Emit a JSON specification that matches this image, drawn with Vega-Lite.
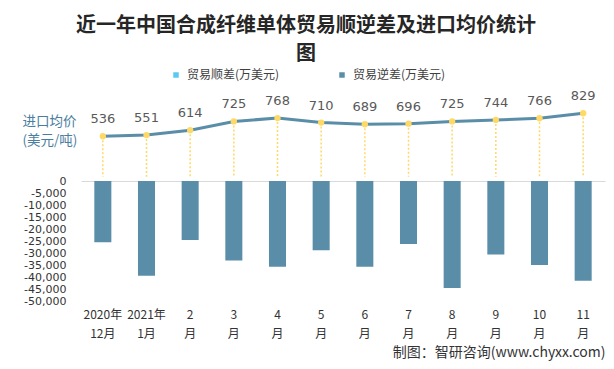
{
  "$schema": "https://vega.github.io/schema/vega-lite/v6.json",
  "width": 524,
  "height": 201,
  "autosize": "none",
  "padding": {"left": 81, "top": 100, "right": 9, "bottom": 68},
  "background": "white",
  "config": {"view": {"stroke": null}, "font": "Noto Sans CJK SC"},
  "title": {
    "text": ["近一年中国合成纤维单体贸易顺逆差及进口均价统计", "图"],
    "anchor": "middle",
    "dx": -37,
    "offset": 5,
    "fontSize": 20,
    "fontWeight": "bold",
    "font": "Noto Sans CJK SC",
    "color": "#262626",
    "lineHeight": 28
  },
  "data": {
    "values": [
      {"month": "2020年12月", "series": "贸易逆差(万美元)", "deficit": -25500, "price": 536},
      {"month": "2021年1月", "series": "贸易逆差(万美元)", "deficit": -39500, "price": 551},
      {"month": "2月", "series": "贸易逆差(万美元)", "deficit": -24600, "price": 614},
      {"month": "3月", "series": "贸易逆差(万美元)", "deficit": -33100, "price": 725},
      {"month": "4月", "series": "贸易逆差(万美元)", "deficit": -35700, "price": 768},
      {"month": "5月", "series": "贸易逆差(万美元)", "deficit": -28900, "price": 710},
      {"month": "6月", "series": "贸易逆差(万美元)", "deficit": -35700, "price": 689},
      {"month": "7月", "series": "贸易逆差(万美元)", "deficit": -26300, "price": 696},
      {"month": "8月", "series": "贸易逆差(万美元)", "deficit": -44600, "price": 725},
      {"month": "9月", "series": "贸易逆差(万美元)", "deficit": -30600, "price": 744},
      {"month": "10月", "series": "贸易逆差(万美元)", "deficit": -35000, "price": 766},
      {"month": "11月", "series": "贸易逆差(万美元)", "deficit": -41600, "price": 829}
    ]
  },
  "encoding": {
    "x": {
      "field": "month",
      "type": "nominal",
      "sort": null,
      "scale": {"paddingInner": 0.61, "paddingOuter": 0.305},
      "axis": {
        "title": "制图：智研咨询(www.chyxx.com)",
        "labelAngle": 0,
        "labelExpr": "datum.value == '2020年12月' ? ['2020年','12月'] : datum.value == '2021年1月' ? ['2021年','1月'] : [replace(datum.value,'月',''), '月']",
        "labelFontSize": 12,
        "labelColor": "#333333",
        "labelLineHeight": 19,
        "labelBaseline": "top",
        "labelPadding": 8,
        "ticks": false,
        "domain": false,
        "titleAnchor": "end",
        "titleAlign": "right",
        "titleX": 524,
        "titleY": 51,
        "titleBaseline": "middle",
        "titleFontSize": 14,
        "titleFontWeight": "normal",
        "titleColor": "#333333"
      }
    }
  },
  "layer": [
    {
      "layer": [
        {
          "mark": {"type": "bar"},
          "encoding": {
            "y": {
              "field": "deficit",
              "type": "quantitative",
              "scale": {"domain": [-50000, 33750], "nice": false, "zero": false},
              "axis": {
                "values": [0, -5000, -10000, -15000, -20000, -25000, -30000, -35000, -40000, -45000, -50000],
                "labelExpr": "(datum.value < 0 ? '-' : '') + format(abs(datum.value), ',')",
                "labelFontSize": 11,
                "labelFont": "DejaVu Sans",
                "labelColor": "#333333",
                "labelOverlap": false,
                "ticks": false,
                "domain": false,
                "labelPadding": 15,
                "grid": true,
                "gridColor": "#d9d9d9",
                "gridOpacity": {"condition": {"test": "datum.value === 0", "value": 1}, "value": 0},
                "title": ["进口均价", "(美元/吨)"],
                "titleAngle": 0,
                "titleAlign": "left",
                "titleBaseline": "top",
                "titleX": -59,
                "titleY": 14,
                "titleFontSize": 13.5,
                "titleFontWeight": "normal",
                "titleColor": "#4A7EA0",
                "titleLineHeight": 19
              }
            },
            "color": {
              "field": "series",
              "type": "nominal",
              "scale": {"domain": ["贸易顺差(万美元)", "贸易逆差(万美元)"], "range": ["#5BC8F4", "#5A8EA8"]},
              "legend": {
                "orient": "none",
                "legendX": 89,
                "legendY": -31,
                "direction": "horizontal",
                "title": null,
                "symbolType": "square",
                "symbolSize": 30,
                "symbolStrokeWidth": 0,
                "labelFontSize": 12,
                "labelColor": "#404040",
                "labelOffset": 5,
                "columnPadding": 56,
                "padding": 0
              }
            }
          }
        }
      ]
    },
    {
      "layer": [
        {
          "mark": {"type": "rule", "color": "#FFD966", "strokeDash": [2, 2], "strokeWidth": 1.5},
          "encoding": {
            "y": {"field": "price", "type": "quantitative", "scale": {"domain": [-1562, 998], "nice": false, "zero": false}, "axis": null},
            "y2": {"datum": 20}
          }
        },
        {
          "mark": {"type": "line", "color": "#5A8EA8", "strokeWidth": 3},
          "encoding": {
            "y": {"field": "price", "type": "quantitative"}
          }
        },
        {
          "mark": {"type": "point", "filled": true, "color": "#FFD966", "size": 40, "opacity": 1},
          "encoding": {
            "y": {"field": "price", "type": "quantitative"}
          }
        },
        {
          "mark": {"type": "text", "dy": -10, "baseline": "bottom", "fontSize": 13, "color": "#595959", "font": "DejaVu Sans"},
          "encoding": {
            "y": {"field": "price", "type": "quantitative"},
            "text": {"field": "price", "type": "quantitative"}
          }
        }
      ]
    }
  ],
  "resolve": {"scale": {"y": "independent"}}
}
